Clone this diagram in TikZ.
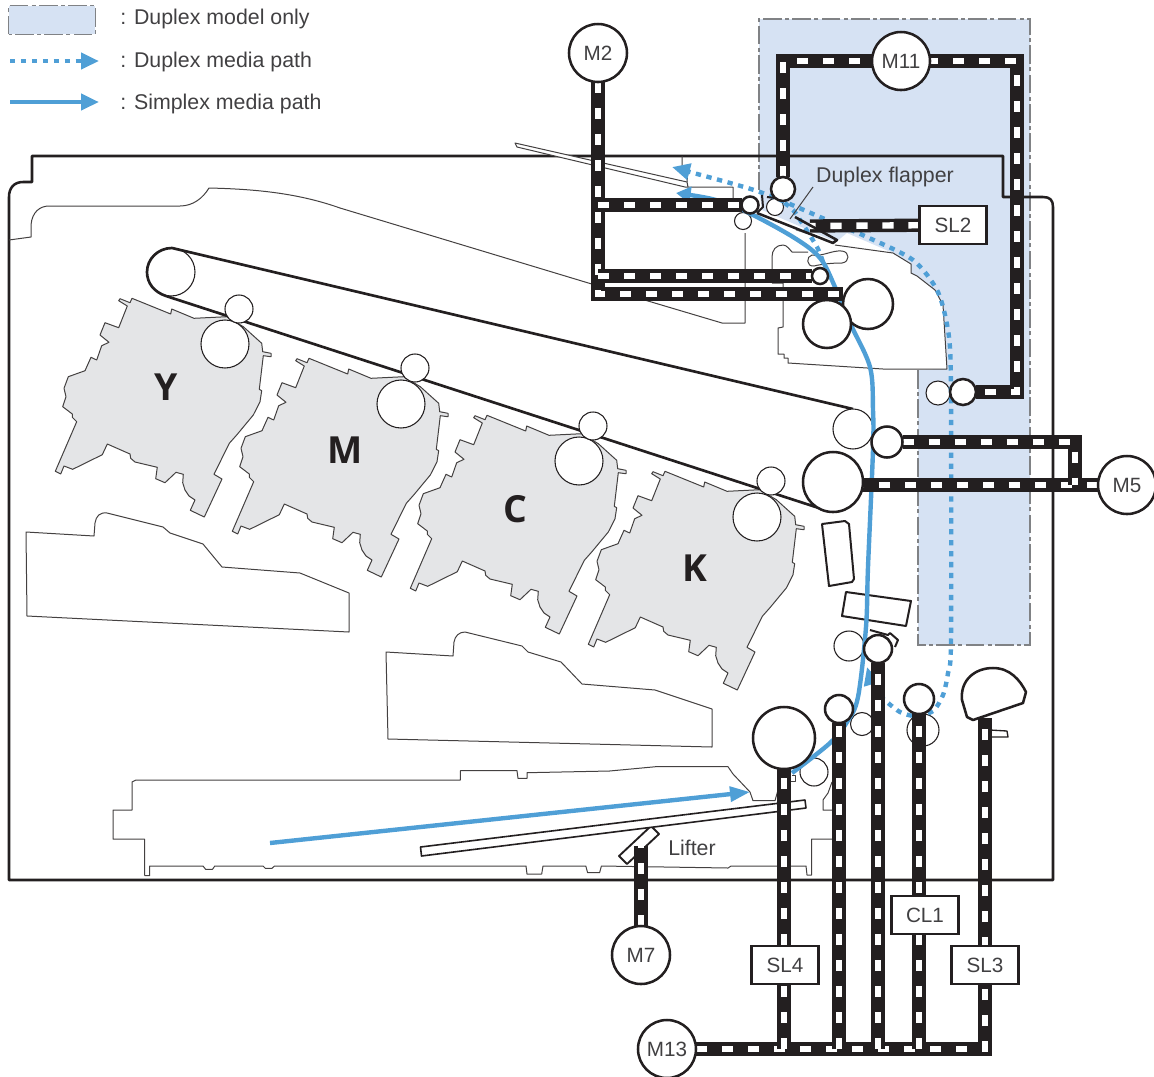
\documentclass[tikz,border=0pt]{standalone}
\usepackage{fontspec}
\setmainfont{Liberation Sans}
\newfontfamily\capfont{Open Sans}
\usetikzlibrary{arrows.meta,backgrounds}
\definecolor{hpblack}{HTML}{231F20}
\definecolor{hptext}{HTML}{414042}
\definecolor{hpblue}{HTML}{4F9FD6}
\definecolor{hpfill}{HTML}{D6E2F3}
\definecolor{hpgrey}{HTML}{E4E5E7}
\definecolor{hpdash}{HTML}{808285}
\tikzset{
  motor/.style={circle,draw=hpblack,fill=white,line width=1.9pt,inner sep=0pt,outer sep=0pt,
                minimum size=43.5pt,text=hptext,font=\fontsize{15.5pt}{17pt}\selectfont},
  roll/.style={circle,draw=hpblack,fill=white,line width=1.9pt,inner sep=0pt,outer sep=0pt,
               minimum size=.75pt*#1},
  rollt/.style={circle,draw=hpblack,fill=white,line width=.8pt,inner sep=0pt,outer sep=0pt,
                minimum size=.75pt*#1},
  sol/.style={draw=hpblack,fill=white,line width=1.9pt,inner sep=0pt,outer sep=0pt,
              minimum width=50pt,minimum height=28.5pt,text=hptext,font=\fontsize{15.5pt}{17pt}\selectfont},
  lab/.style={text=hptext,inner sep=0pt,font=\fontsize{16pt}{18pt}\selectfont},
  unit/.style={text=hpblack,inner sep=0pt,font=\capfont\bfseries\fontsize{28pt}{30pt}\selectfont},
  blt/.style={draw=hpblack,line width=10pt,postaction={draw=white,line width=4.8pt,dash pattern=on 8.5pt off 11pt}},
  ln/.style={draw=hpblack,line width=1.9pt,line join=round},
  thn/.style={draw=hpblack!85,line width=.75pt,line join=round},
  simplex/.style={draw=hpblue,line width=3.3pt},
  duplex/.style={draw=hpblue,line width=3.3pt,dash pattern=on 4pt off 4.2pt},
  dsh/.style={draw=hpdash,line width=1.1pt,dash pattern=on 14pt off 2.5pt on 3pt off 2.5pt},
  cart/.pic={
    \draw[thn,fill=hpgrey] (118.7,300.7)--(120,298.7)--(130,302.7)--(132,298.3)--(170.7,314)--(171.7,309)
      --(194,318.3)--(226.7,316.7)--(243.3,326.7)--(261.7,343.3)--(262.7,351.7)--(271,353.3)--(271,356.7)
      --(263.3,355.7)--(259.3,389.3)--(261.7,390.7)--(260,401.7)--(253.3,415)--(236.7,435)--(229.3,443.3)
      --(214,474.3)--(222,479)--(204.3,517)--(190.3,510.3)--(195,500)--(189,496)--(185,490)--(182.7,482.7)
      --(183.3,474.3)--(176,472.3)--(165,482.7)--(155.7,478.7)--(157.3,467.3)--(135,462)--(130.7,458.3)
      --(130,454)--(107.3,444)--(102.3,454.7)--(72.7,469.3)--(64,466)--(60.7,474)--(55.3,471.3)--(76.7,421.7)
      --(72.3,417.3)--(72.3,414)--(62.7,406.7)--(66,396.7)--(64,388.3)--(68.3,376.7)--(85,370.7)--(91,357.3)
      --(96.7,360)--(101.7,345.7)--(109,342.3)--(100,335)--(105,322.7)--(118.7,327.7)--(127.3,306)--cycle;
  },
}
\begin{document}
\begin{tikzpicture}[x=.75pt,y=-.75pt]
  \useasboundingbox (0,0) rectangle (1154,1076);
  % motors and solenoids
  \node[motor] (mtwo) at (598,53) {M2};
  \node[motor] (mel) at (901,61) {M11};
  \node[motor] (mfive) at (1127,485) {M5};
  \node[motor] (mseven) at (641,955) {M7};
  \node[motor] (mthr) at (667,1049) {M13};
  \node[sol] (sltwo) at (953,225) {SL2};
  \node[sol] (slfour) at (785,965) {SL4};
  \node[sol] (slthree) at (985,965) {SL3};
  \node[sol] (clone) at (925,915) {CL1};
  % rollers with a belt
  \node[roll=17] (rexit) at (750,205) {};
  \node[roll=24] (rdup) at (783,189) {};
  \node[roll=16] (rfuse) at (820,276) {};
  \node[roll=26] (rret) at (963,392) {};
  \node[roll=31] (rsec) at (887,442) {};
  \node[roll=60] (rdrive) at (833,482) {};
  \node[roll=62] (rpick) at (784,738) {};
  \node[roll=28] (rfeed) at (839,709) {};
  \node[roll=28] (rreg) at (878,649) {};
  \node[roll=30] (rdupf) at (919,699) {};
  \draw[ln,fill=white] (962,700)--(967,717)--(973,720)--(1023,703)--(1026,692) .. controls (1020,680) and (1010,668) .. (993,668) .. controls (975,668) and (960,680) .. (962,700)--cycle;
  \node[roll=50] (rfuup) at (868,304) {};
  \node[roll=48] (rfulo) at (827,324) {};
  % flapper
  \draw[ln] (757,213)--(833,243)--(837,240)--(795,217);
  \draw[ln,line width=1.5pt] (762,195)--(763,207)--(757,213) (767,197)--(775,198);
  \draw[thn] (813,187)--(790,219);
  \node[lab] (tflap) at (885,177) {Duplex flapper};
  \node[lab,anchor=west] (tlift) at (668,848) {Lifter};
  % legend
  \node[draw=none,fill=hpfill,minimum width=64.5pt,minimum height=21pt,inner sep=0pt] (lbox) at (52,20) {};
  \draw[dsh] (lbox.south west) rectangle (lbox.north east);
  \node[lab,anchor=west] (tmod) at (120,19) {: Duplex model only};
  \node[lab,anchor=west] (tdup) at (120,62) {: Duplex media path};
  \node[lab,anchor=west] (tsim) at (120,104) {: Simplex media path};
  \coordinate (ldup) at (10,61);
  \coordinate (ldupe) at (99,61);
  \coordinate (lsim) at (10,102);
  \coordinate (lsime) at (99,102);
  \draw[duplex,-{Triangle[length=13.5pt,width=12pt]}] (ldup)--(ldupe);
  \draw[simplex,-{Triangle[length=13.5pt,width=12pt]}] (lsim)--(lsime);
  \node[unit] (ty) at (166,387) {Y};
  \node[unit] (tm) at (345,450) {M};
  \node[unit] (tc) at (515,509) {C};
  \node[unit] (tk) at (695,568) {K};
  \begin{scope}[on background layer]
    \fill[hpfill] (759,19)--(1030,19)--(1030,645)--(918,645)--(918,370)--(947,369)--(943,305)--(935,290)--(917,276)
      --(911,273)--(911,264)--(893,253)--(847,233)--(836,242)--(762,210)--(759,190)--cycle;
    \draw[dsh] (918,370)--(918,645)--(1030,645)--(1030,19)--(759,19)--(759,190);
    \draw[ln] (32,156)--(1003,156)--(1003,197)--(1043,197) .. controls (1050,197) and (1053,200) .. (1053,207)
      --(1053,880)--(9,880)--(9,197) .. controls (9,188) and (14,182) .. (23,182)--(32,182)--cycle;
    % frame outlines
    \draw[thn] (9,240)--(31,237)--(31,225) .. controls (32,212) and (40,206) .. (49,206)--(180,206)
      .. controls (193,206) and (203,198) .. (209,188) .. controls (250,189) and (295,192) .. (340,208)
      --(648,301)--(722,323)--(745,323)--(745,233);
    \draw[thn] (682,156)--(682,167) (687,182)--(688,170);
    \draw[thn,fill=white] (515,143)--(687,182)--(688,187)--(733,187)--(733,198)--(733,187)--(685,187)--(517,147)--cycle;
    % toner boxes and tray
    \draw[thn] (26,532)--(94,536)--(95,523) .. controls (96,516) and (100,512) .. (107,513)--(163,527)--(170,533)
      --(203,544)--(222,567)--(300,573)--(349,593)--(349,632)--(27,616)--cycle;
    \draw[thn] (386,652)--(453,656)--(454,642) .. controls (455,636) and (459,632) .. (465,632)--(522,646)--(528,652)
      --(561,662)--(582,684)--(655,690)--(712,709)--(712,747)--(388,739)--cycle;
    \draw[thn] (144.5,875.7)--(144.5,839)--(113,839)--(113,810)--(132,810)--(132,782)--(136,780)--(460.4,780)
      --(460.4,770.7)--(517,770.7)--(518,778.3)--(527,778.3)--(527,772.7)--(609.6,771)--(655.6,766.7)--(728,766.7)
      --(733,774)--(750,792)--(753,800.7)--(775,800.7)--(778,790);
    \draw[thn] (144.5,875.7)--(149.6,875.7)--(149.6,866)--(203,866)--(205.6,869.3)--(212.5,869.3)--(214.8,866)
      --(263,866)--(265.3,868.3)--(272,868.3)--(274.5,866)--(526,866)--(527,874)--(541.7,874)--(543,866)--(585.8,866)
      --(587.6,872.7)--(599.6,872.7)--(601.4,866)--(728,868)--(731,866)--(806,866)--(807,875)--(811.7,875)--(811.7,839)
      --(833,839);
    \draw[thn] (792,775)--(795,775)--(795,781)--(791,781);
    \draw[thn] (832,782)--(828,793)--(823,800)--(823,810)--(833,810);
    % fuser
    \draw[thn] (772,283)--(772,257) .. controls (772,250) and (776,245) .. (783,245) .. controls (787,245) and (790,250) .. (792,252)
      --(808,252) (835,245)--(893,253)--(911,264)--(911,273)--(917,276)--(935,290)--(943,305)--(947,369)--(883,369)--(788,363)
      --(788,358)--(784,358)--(784,354)--(778,354)--(778,328)--(783,327)--(783,283)--(772,283);
    \draw[thn,fill=white] (812,255) .. controls (822,257) and (832,250) .. (842,251) .. controls (850,252) and (850,262) .. (842,263)
      .. controls (832,263) and (822,264) .. (814,266) .. controls (806,267) and (806,256) .. (812,255)--cycle;
    \draw[thn,draw=hpdash] (796,230)--(822,238);
    % cartridges
    \pic at (0,0) {cart};
    \pic at (177,60) {cart};
    \pic at (355,117) {cart};
    \pic at (533,173) {cart};
    \node[rollt=48] (dy) at (225,344) {};
    \node[rollt=48] (dm) at (401,404) {};
    \node[rollt=48] (dc) at (579,461) {};
    \node[rollt=48] (dk) at (757,517) {};
    \node[rollt=48] (ritb) at (171,272) {};
    \draw[ln,line width=2pt] (853,409)--(172,248) .. controls (158,248) and (147,259) .. (147,272)
      .. controls (147,283) and (154,292) .. (166,296)--(825,510);
    \node[rollt=28] (py) at (239,309) {};
    \node[rollt=28] (pm) at (415,368) {};
    \node[rollt=28] (pc) at (593,426) {};
    \node[rollt=28] (pk) at (771,481) {};
    \node[rollt=40] (ritr) at (853,429) {};
    % parts round the media path
    \draw[ln,line width=1.5pt,fill=white] (822,524)--(845,521)--(849,524)--(854,579)--(852,582)--(829,586)--cycle;
    \draw[ln,line width=1.5pt,fill=white] (846,592)--(911,601)--(906,626)--(842,616)--cycle;
    \draw[ln,line width=1.5pt] (870,630)--(888,635)--(890,633)--(898,640)--(895,647);
    \draw[ln,line width=1.4pt,fill=white] (651,826)--(659,834)--(627,864)--(619,856)--cycle;
    \draw[ln,line width=1.2pt,fill=white] (420.5,847)--(805,800)--(806,808)--(421.5,856)--cycle;
    \draw[ln,line width=1pt,fill=white] (990,730)--(1007,731)--(1008,737)--(990,737);
    \node[rollt=17] (rexl) at (743,221) {};
    \node[rollt=17] (rdul) at (775,207) {};
    \node[rollt=24] (rrel) at (938,393) {};
    \node[rollt=28] (rpil) at (814,772) {};
    \node[rollt=23] (rfel) at (862,724) {};
    \node[rollt=30] (rrgl) at (849,646) {};
    \node[rollt=32] (rdfl) at (923,730) {};
    % media paths
    \draw[simplex,-{Triangle[length=15pt,width=11pt]}] (270,843)--(750,792);
    \draw[simplex,-{Triangle[length=11pt,width=12pt]}] plot[smooth,tension=.55] coordinates {(792,773) (830,743) (847,722) (858,697)
      (866,627) (868,567) (873,450) (873,410) (870,367) (850,323) (835,287) (820,258) (793,237) (743,210) (712,199) (676,193)};
    \draw[duplex,{Triangle[length=13.5pt,width=12pt]}-{Triangle[length=13.5pt,width=12pt]}] plot[smooth,tension=.45] coordinates
      {(672,167) (690,172) (760,192) (827,220) (867,237) (913,260) (938,292) (949,337) (951,400) (951,640) (948,673)
      (943,695) (933,711) (915,716) (900,712) (887,702) (875,690) (867,667)};
    \draw[duplex] plot[smooth,tension=.5] coordinates {(776,196) (793,210) (802,223) (817,247) (823,262)};
    % belts
    \coordinate (efuse) at (843,294);
    \coordinate (eflap) at (810,226);
    \coordinate (etop) at (1017,61);
    \coordinate (ecl) at (1075,485);
    \coordinate (elift) at (641,846);
    \coordinate (ecam) at (985,718);
    \draw[blt] (mtwo) |- (efuse);
    \draw[blt] (mtwo |- rexit)--(rexit);
    \draw[blt] (mtwo |- rfuse)--(rfuse);
    \draw[blt] (rdup) |- (etop)--(etop |- rret)--(rret);
    \draw[blt] (sltwo)--(eflap);
    \draw[blt] (mfive)--(mfive -| rdrive);
    \draw[blt] (rsec) -| (ecl);
    \draw[blt] (mseven)--(elift);
    \draw[blt] (mthr) -| (ecam);
    \draw[blt] (mthr -| rpick)--(rpick);
    \draw[blt] (mthr -| rfeed)--(rfeed);
    \draw[blt] (mthr -| rreg)--(rreg);
    \draw[blt] (mthr -| rdupf)--(rdupf);
  \end{scope}
\end{tikzpicture}
\end{document}
